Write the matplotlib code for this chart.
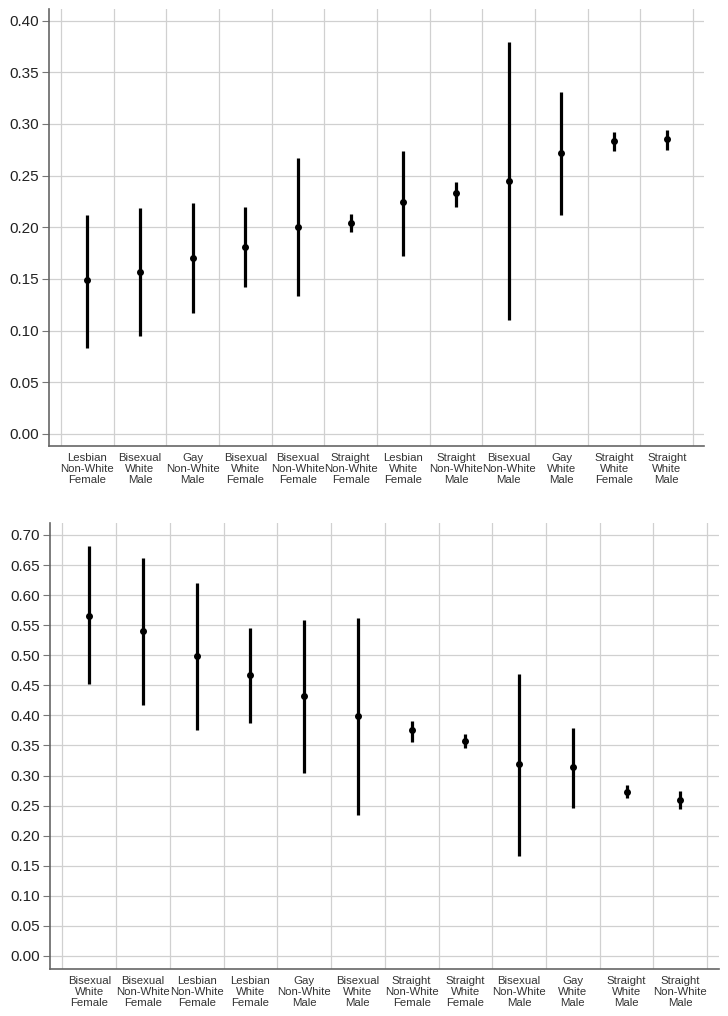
import numpy as np
import matplotlib.pyplot as plt

plt.rcParams['font.family'] = ['Liberation Sans', 'DejaVu Sans']

# panel 1 - sorted ascending
top_labels = ["Lesbian\nNon-White\nFemale", "Bisexual\nWhite\nMale", "Gay\nNon-White\nMale",
              "Bisexual\nWhite\nFemale", "Bisexual\nNon-White\nFemale", "Straight\nNon-White\nFemale",
              "Lesbian\nWhite\nFemale", "Straight\nNon-White\nMale", "Bisexual\nNon-White\nMale",
              "Gay\nWhite\nMale", "Straight\nWhite\nFemale", "Straight\nWhite\nMale"]
top_est = [0.149, 0.157, 0.170, 0.181, 0.200, 0.204, 0.224, 0.233, 0.245, 0.272, 0.283, 0.2855]
top_lo = [0.083, 0.095, 0.117, 0.142, 0.133, 0.195, 0.172, 0.220, 0.110, 0.212, 0.274, 0.275]
top_hi = [0.212, 0.219, 0.223, 0.220, 0.267, 0.213, 0.274, 0.244, 0.379, 0.331, 0.292, 0.294]
top_ticks = [0.00, 0.05, 0.10, 0.15, 0.20, 0.25, 0.30, 0.35, 0.40]

# panel 2 - sorted descending
bot_labels = ["Bisexual\nWhite\nFemale", "Bisexual\nNon-White\nFemale", "Lesbian\nNon-White\nFemale",
              "Lesbian\nWhite\nFemale", "Gay\nNon-White\nMale", "Bisexual\nWhite\nMale",
              "Straight\nNon-White\nFemale", "Straight\nWhite\nFemale", "Bisexual\nNon-White\nMale",
              "Gay\nWhite\nMale", "Straight\nWhite\nMale", "Straight\nNon-White\nMale"]
bot_est = [0.566, 0.540, 0.498, 0.467, 0.432, 0.399, 0.375, 0.358, 0.319, 0.314, 0.273, 0.259]
bot_lo = [0.452, 0.417, 0.375, 0.387, 0.304, 0.235, 0.355, 0.345, 0.166, 0.246, 0.262, 0.244]
bot_hi = [0.682, 0.662, 0.620, 0.546, 0.558, 0.562, 0.390, 0.369, 0.469, 0.379, 0.284, 0.275]
bot_ticks = [0.00, 0.05, 0.10, 0.15, 0.20, 0.25, 0.30, 0.35, 0.40, 0.45, 0.50,
             0.55, 0.60, 0.65, 0.70]


def draw_panel(ax, labels, est, lo, hi, ticks, ylim, xlim):
    x = np.arange(1, len(labels) + 1)
    ax.vlines(x, lo, hi, color='black', linewidth=2.3, zorder=3)
    ax.plot(x, est, 'o', color='black', markersize=4.0, zorder=4)

    ax.set_xlim(*xlim)
    ax.set_ylim(*ylim)
    ax.set_xticks(x)
    ax.set_xticklabels(labels, fontsize=8.2, color='#333333', linespacing=1.12)
    ax.set_xticks(np.arange(0.5, len(labels) + 1, 1.0), minor=True)
    ax.set_yticks(ticks)
    ax.set_yticklabels([f"{t:.2f}" for t in ticks], fontsize=11, color='#222222')

    ax.tick_params(axis='x', which='both', length=0, pad=5)
    ax.tick_params(axis='y', length=5, width=0.8, color='#777777', pad=2)
    ax.grid(axis='x', which='minor', color='#d0d0d0', linewidth=0.9)
    ax.grid(axis='y', which='major', color='#d0d0d0', linewidth=0.9)
    ax.set_axisbelow(True)

    for s in ['top', 'right']:
        ax.spines[s].set_visible(False)
    for s in ['left', 'bottom']:
        ax.spines[s].set_color('#666666')
        ax.spines[s].set_linewidth(1.2)


fig = plt.figure(figsize=(7.28, 10.16), dpi=100)
ax1 = fig.add_axes([0.0673, 0.561, 0.9, 0.430])
ax2 = fig.add_axes([0.0687, 0.0463, 0.919, 0.4387])

draw_panel(ax1, top_labels, top_est, top_lo, top_hi, top_ticks, (-0.0118, 0.411), (0.272, 12.71))
draw_panel(ax2, bot_labels, bot_est, bot_lo, bot_hi, bot_ticks, (-0.0216, 0.7195), (0.27, 12.72))

fig.savefig("out.png", dpi=100)
